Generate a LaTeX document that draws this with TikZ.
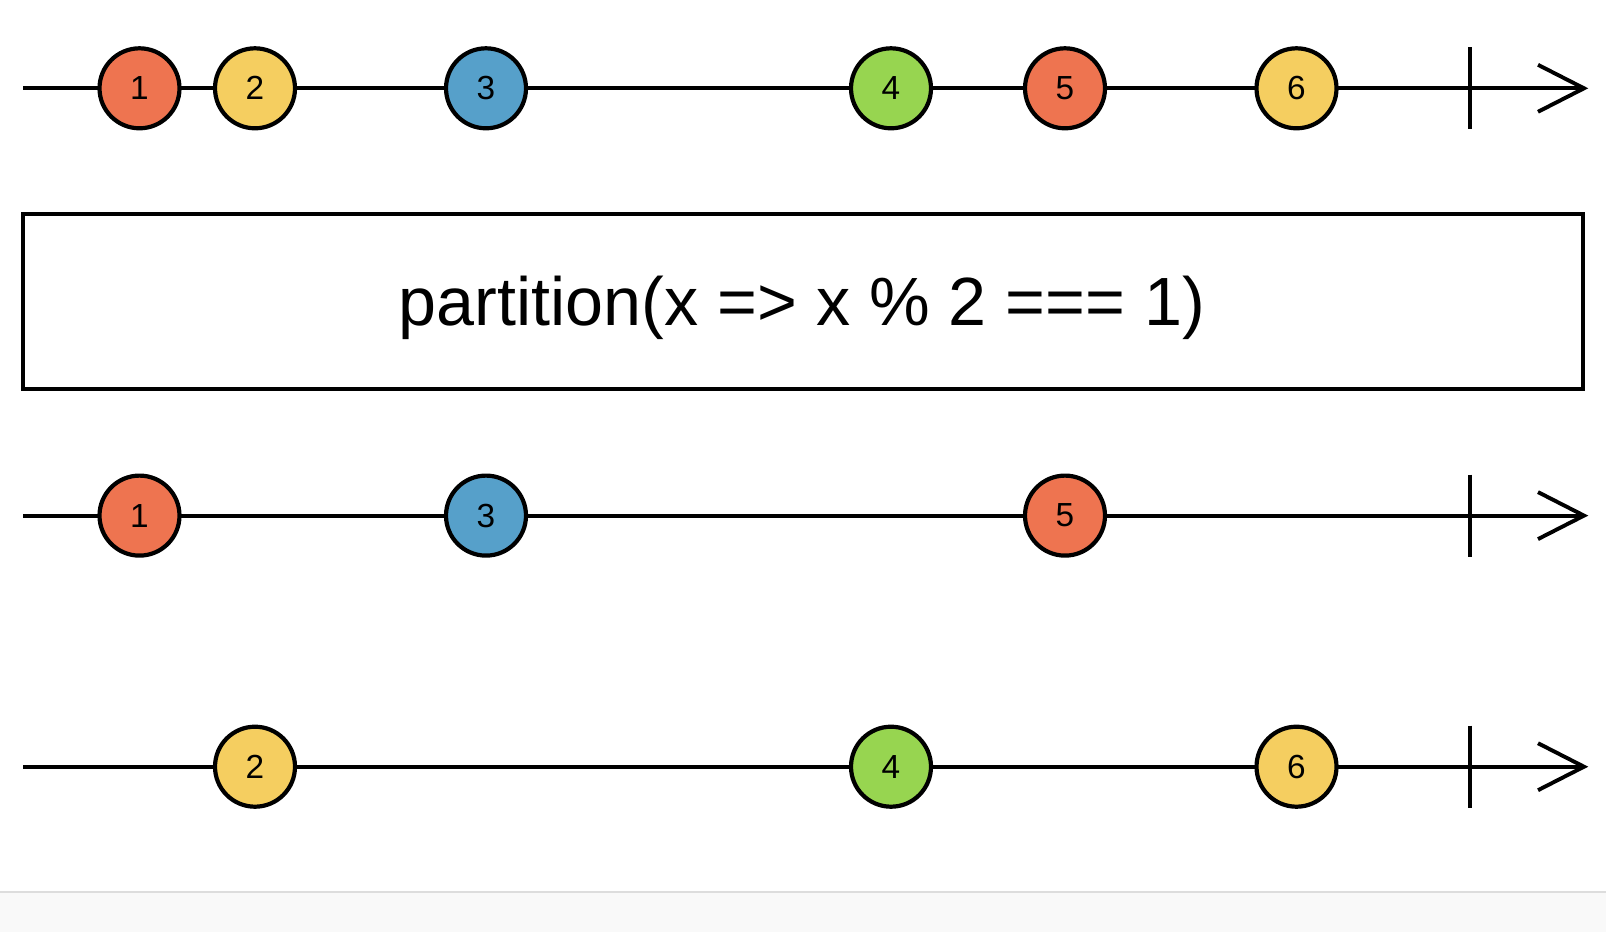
\documentclass[tikz,border=0pt]{standalone}
\usepackage{fontspec}
\setmainfont{Liberation Sans}
\definecolor{mred}{RGB}{238,116,80}
\definecolor{myel}{RGB}{245,206,96}
\definecolor{mblu}{RGB}{86,160,202}
\definecolor{mgrn}{RGB}{151,213,80}
\definecolor{foot}{RGB}{249,249,249}
\definecolor{footline}{RGB}{221,221,221}
\tikzset{
  tline/.style={line width=3.9bp, black},
  marble/.style={circle, draw=black, line width=4.2bp, minimum size=80bp, inner sep=0pt,
    font=\fontsize{33.5}{34}\selectfont},
  opbox/.style={draw=black, line width=4bp, minimum width=1560bp, minimum height=175bp,
    inner sep=0pt},
  optext/.style={inner sep=0pt, anchor=base, font=\fontsize{68.5}{72}\selectfont}
}
\begin{document}
\begin{tikzpicture}[x=1bp,y=-1bp]
\useasboundingbox (0,0) rectangle (1606,932);
\fill[white] (0,0) rectangle (1606,892);
\fill[foot] (0,892) rectangle (1606,932);
\draw[footline, line width=2bp] (0,892) -- (1606,892);

% operator box
\node[opbox] (op) at (803.3,301.5) {};
\node[optext] (opl) at (802,325) {partition(x => x \% 2 === 1)};

% timelines
\foreach \r/\y in {a/88.3, b/515.6, c/766.7}{
  \coordinate (\r s) at (23,\y);
  \coordinate (\r e) at (1584,\y);
  \coordinate (\r t1) at (1470,\y-41);
  \coordinate (\r t2) at (1470,\y+41);
  \draw[tline] (\r s) -- (\r e);
  \draw[tline] (\r t1) -- (\r t2);
  \draw[tline, line join=miter] (\r e) ++(-46,-23.5) -- (\r e) -- ++(-46,23.5);
}

% row 1
\node[marble, fill=mred] (a1) at (139.5,88.3) {1};
\node[marble, fill=myel] (a2) at (255,88.3) {2};
\node[marble, fill=mblu] (a3) at (486,88.3) {3};
\node[marble, fill=mgrn] (a4) at (891,88.3) {4};
\node[marble, fill=mred] (a5) at (1065,88.3) {5};
\node[marble, fill=myel] (a6) at (1296.5,88.3) {6};

% row 2
\node[marble, fill=mred] (b1) at (139.5,515.6) {1};
\node[marble, fill=mblu] (b3) at (486,515.6) {3};
\node[marble, fill=mred] (b5) at (1065,515.6) {5};

% row 3
\node[marble, fill=myel] (c2) at (255,766.7) {2};
\node[marble, fill=mgrn] (c4) at (891,766.7) {4};
\node[marble, fill=myel] (c6) at (1296.5,766.7) {6};
\end{tikzpicture}
\end{document}
